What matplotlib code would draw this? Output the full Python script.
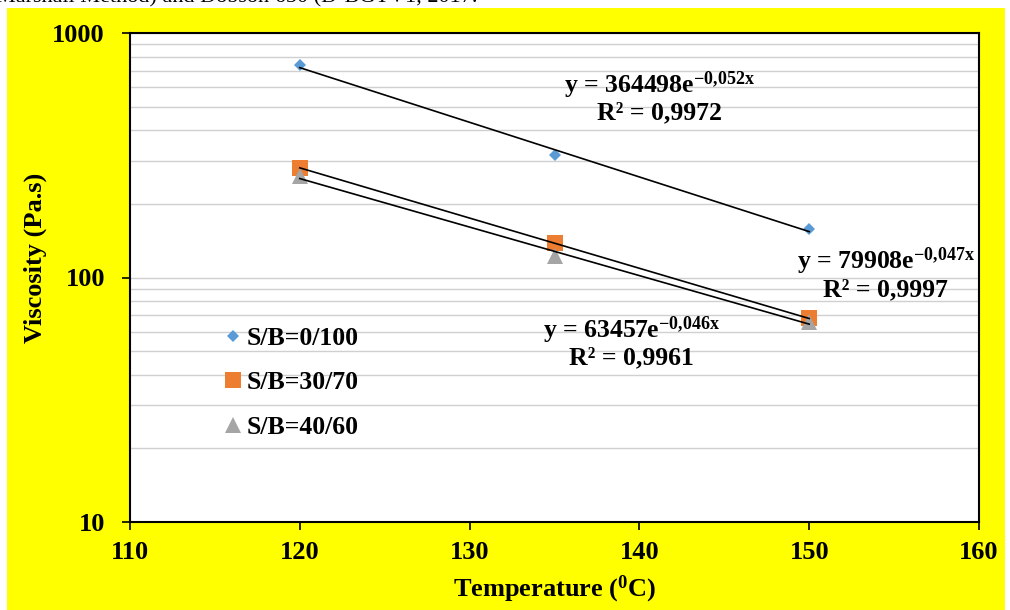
import numpy as np
import matplotlib
matplotlib.use('Agg')
import matplotlib.pyplot as plt
from matplotlib.patches import Rectangle

plt.rcParams['font.family'] = ['Liberation Serif', 'DejaVu Serif']
plt.rcParams['font.weight'] = 'bold'
plt.rcParams['mathtext.fontset'] = 'custom'
plt.rcParams['mathtext.rm'] = 'Liberation Serif:bold'
plt.rcParams['mathtext.it'] = 'Liberation Serif:bold'
plt.rcParams['mathtext.bf'] = 'Liberation Serif:bold'

# data
temp = [120, 135, 150]
visc_0_100 = [740, 317, 158]
visc_30_70 = [281, 138, 68]
visc_40_60 = [260, 122, 66]
labels = ['S/B=0/100', 'S/B=30/70', 'S/B=40/60']
eq_text = ['y = 364498e$^{-0{,}052x}$', 'y = 79908e$^{-0{,}047x}$', 'y = 63457e$^{-0{,}046x}$']
r2_text = ['R² = 0,9972', 'R² = 0,9997', 'R² = 0,9961']

colors = ['#5B9BD5', '#ED7D31', '#A5A5A5']
markers = ['D', 's', '^']
msizes = [6.5, 11, 12]

fig = plt.figure(figsize=(10.1, 6.1), dpi=100)
fig.patch.set_facecolor('white')
# yellow chart box
fig.patches.append(Rectangle((7/1010, 0), 998/1010, 602/610, transform=fig.transFigure,
                             facecolor='#FFFF00', edgecolor='none', zorder=-5))
# clipped caption line of the page above the chart
fig.text(-0.004, 1 - 2/610, 'Marshall Method) and Dobson 650 (D-BGTV1, 2017.',
         fontsize=16, fontweight='normal', va='baseline', ha='left')

ax = fig.add_axes([130/1010, 88/610, 849/1010, 489/610])
ax.set_zorder(2)
ax.set_facecolor('white')

series = [visc_0_100, visc_30_70, visc_40_60]
xfit = np.linspace(min(temp), max(temp), 50)
for v, lab, c, m, ms in zip(series, labels, colors, markers, msizes):
    ax.plot(temp, v, linestyle='none', marker=m, color=c, markersize=ms,
            markeredgewidth=0, label=lab, zorder=3)
    k, b = np.polyfit(temp, np.log(v), 1)
    ax.plot(xfit, np.exp(b + k * xfit), color='black', lw=1.2, zorder=4)

ax.set_yscale('log')
ax.set_ylim(10, 1000)
ax.set_xlim(110, 160)
ax.set_xticks([110, 120, 130, 140, 150, 160])
ax.set_yticks([10, 100, 1000])
ax.set_yticklabels(['10', '100', '1000'])
ax.yaxis.set_minor_formatter(plt.NullFormatter())
ax.tick_params(axis='y', which='minor', length=0)
ax.tick_params(axis='both', which='major', direction='out', length=6, width=1.2,
               labelsize=19, color='black')
ax.tick_params(axis='y', pad=12)
ax.tick_params(axis='x', pad=8)
ax.grid(True, axis='y', which='both', color='#D0D0D0', lw=1.0)
ax.set_axisbelow(True)
for s in ax.spines.values():
    s.set_color('black')
    s.set_linewidth(1.5)

ax.set_xlabel('Temperature ($^{0}$C)', fontsize=19, fontweight='bold')
ax.set_ylabel('Viscosity (Pa.s)', fontsize=19, fontweight='bold')
ax.xaxis.set_label_coords(0.5, -0.105)
ax.yaxis.set_label_coords(-0.098, 0.54)

# trendline equations
eq_pos = [(0.624, 0.894, 0.836), (0.890, 0.534, 0.474), (0.591, 0.393, 0.335)]
for (xp, ye, yr), e, r in zip(eq_pos, eq_text, r2_text):
    ax.text(xp, ye, e, transform=ax.transAxes, ha='center', va='center', fontsize=18.5,
            fontweight='bold', zorder=5)
    ax.text(xp, yr, r, transform=ax.transAxes, ha='center', va='center', fontsize=18.5,
            fontweight='bold', zorder=5)

ax.legend(loc='upper left', bbox_to_anchor=(0.077, 0.447), frameon=False, fontsize=18.5,
          labelspacing=0.85, handletextpad=0.0, handlelength=1.1)

fig.savefig('out.png', dpi=100)
